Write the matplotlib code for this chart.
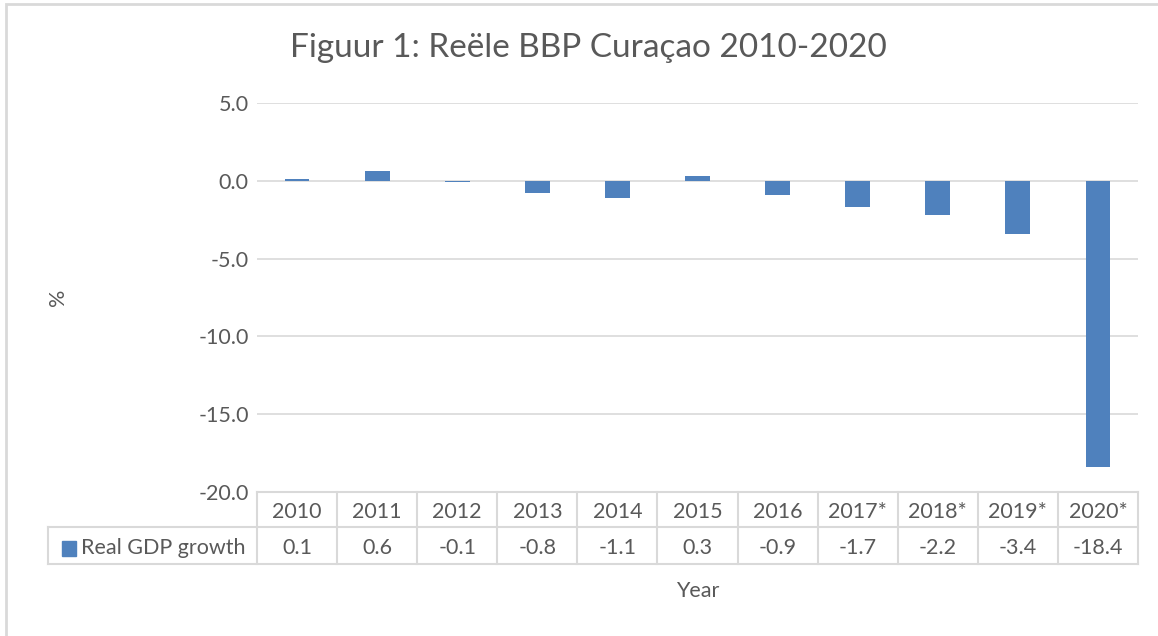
import matplotlib.pyplot as plt
from matplotlib.lines import Line2D
from matplotlib.patches import Rectangle

plt.rcParams['font.family'] = ['Lato', 'DejaVu Sans']

years = ["2010", "2011", "2012", "2013", "2014", "2015", "2016",
         "2017*", "2018*", "2019*", "2020*"]
growth = [0.1, 0.6, -0.1, -0.8, -1.1, 0.3, -0.9, -1.7, -2.2, -3.4, -18.4]
series_name = "Real GDP growth"

W, H = 1158, 636
grey = "#595959"
line_c = "#d9d9d9"
blue = "#4f81bd"
fs = 15.5

fig = plt.figure(figsize=(W / 100, H / 100), dpi=100)


def fx(px):
    return px / W


def fy(py):
    return 1 - py / H


# plot area in pixels
left, right, top, bottom = 257, 1138, 103, 492
ax = fig.add_axes([fx(left), fy(bottom), fx(right - left), fy(top) - fy(bottom)])

x = list(range(len(years)))
ax.bar(x, growth, width=0.31, color=blue, zorder=3)
ax.set_xlim(-0.5, len(years) - 0.5)
ax.set_ylim(-20, 5)
ax.set_yticks([5, 0, -5, -10, -15, -20])
ax.set_yticklabels([f"{v:.1f}" for v in [5, 0, -5, -10, -15, -20]])
ax.yaxis.grid(True, color=line_c, lw=1.2, zorder=0)
ax.set_xticks([])
for s in ax.spines.values():
    s.set_visible(False)
ax.tick_params(axis="y", length=0, pad=6, labelsize=fs, labelcolor=grey)

# data table under the axis
row1, row2, row3 = 492, 527, 564
box_left = 48
col_w = (right - left) / len(years)
tlines = []
tlines.append(((left, right), (row1, row1)))
tlines.append(((box_left, right), (row2, row2)))
tlines.append(((box_left, right), (row3, row3)))
tlines.append(((box_left, box_left), (row2, row3)))
for i in range(len(years) + 1):
    xb = left + i * col_w
    tlines.append(((xb, xb), (row1, row3)))
for (xs, ys) in tlines:
    fig.add_artist(Line2D([fx(v) for v in xs], [fy(v) for v in ys],
                          color=line_c, lw=1.5))

for i, (yr, val) in enumerate(zip(years, growth)):
    cx = left + (i + 0.5) * col_w
    fig.text(fx(cx), fy((row1 + row2) / 2 + 3), yr, ha="center", va="center",
             fontsize=fs, color=grey)
    fig.text(fx(cx), fy((row2 + row3) / 2 + 3), f"{val:.1f}", ha="center",
             va="center", fontsize=fs, color=grey)

fig.add_artist(Rectangle((fx(62), fy(556)), fx(14), fy(541) - fy(556),
                         color=blue))
fig.text(fx(81), fy((row2 + row3) / 2 + 3), series_name, ha="left",
         va="center", fontsize=fs, color=grey)

# titles
fig.text(fx(588), fy(48), "Figuur 1: Reële BBP Curaçao 2010-2020",
         ha="center", va="center", fontsize=24, color=grey)
fig.text(fx((left + right) / 2), fy(591), "Year", ha="center", va="center",
         fontsize=fs, color=grey)
fig.text(fx(58), fy((top + bottom) / 2), "%", ha="center", va="center",
         rotation=90, fontsize=fs, color=grey)

# chart border
fig.add_artist(Rectangle((fx(6), fy(H + 10)), fx(W + 10), fy(4) - fy(H + 10),
                         fill=False, edgecolor=line_c, lw=2))

fig.savefig("out.png", dpi=100)
